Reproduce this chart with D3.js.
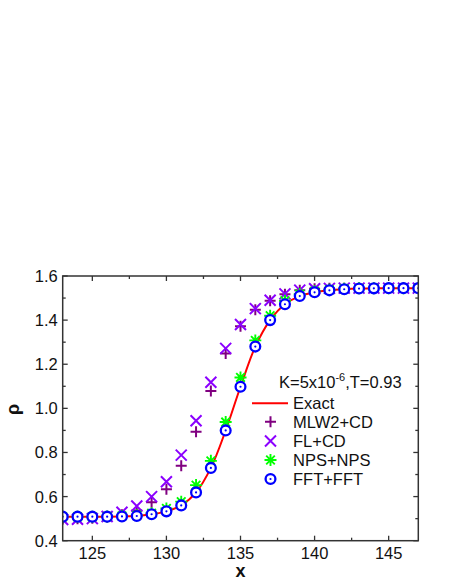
<!DOCTYPE html>
<html><head><meta charset="utf-8">
<script src="https://cdn.jsdelivr.net/npm/d3@7"></script>
<style>body{margin:0;background:#fff}svg{display:block}text{font-family:"Liberation Sans",Arial,sans-serif;fill:#111}</style>
</head><body><svg id="c" width="450" height="582"></svg>
<script>
const xs = [123,124,125,126,127,128,129,130,131,132,133,134,135,136,137,138,139,140,141,142,143,144,145,146,147];
const exact = [0.509,0.509,0.509,0.509,0.510,0.512,0.520,0.533,0.560,0.619,0.730,0.900,1.098,1.280,1.400,1.472,1.509,1.526,1.535,1.540,1.543,1.544,1.545,1.545,1.545];
const mlw2 = [0.498,0.499,0.502,0.507,0.518,0.537,0.574,0.633,0.740,0.894,1.079,1.249,1.372,1.447,1.488,1.517,1.535,1.542,1.544,1.545,1.545,1.545,1.545,1.545,1.545];
const flcd = [0.496,0.497,0.500,0.510,0.529,0.557,0.600,0.667,0.788,0.944,1.118,1.272,1.380,1.452,1.490,1.519,1.536,1.542,1.544,1.545,1.545,1.545,1.545,1.545,1.545];
const nps = [0.509,0.509,0.509,0.510,0.512,0.515,0.525,0.546,0.577,0.652,0.762,0.938,1.140,1.308,1.420,1.488,1.518,1.531,1.538,1.542,1.544,1.545,1.545,1.545,1.545];
const fft = [0.509,0.509,0.509,0.509,0.510,0.512,0.520,0.533,0.560,0.619,0.730,0.900,1.098,1.280,1.400,1.472,1.509,1.526,1.535,1.540,1.543,1.544,1.545,1.545,1.545];
const xTicks = [125,130,135,140,145];
const yTicks = [0.4,0.6,0.8,1.0,1.2,1.4,1.6];
const legendLabels = ["Exact","MLW2+CD","FL+CD","NPS+NPS","FFT+FFT"];

const svg = d3.select("#c");
const L=62.7,R=418.3,T=276,B=540.7;
const x = d3.scaleLinear().domain([123,147]).range([L,R]);
const y = d3.scaleLinear().domain([0.4,1.6]).range([B,T]);
const axisCol="#333";
const FS=16.5;

svg.append("defs").append("clipPath").attr("id","cp").append("rect").attr("x",L).attr("y",T).attr("width",R-L).attr("height",B-T);

const xMinor = d3.range(122.5,147.01,2.5).filter(v=>v>=123&&v<=147&&v%5!==0);
const yMinor = d3.range(0.5,1.6,0.2);
const g = svg.append("g");
function hTicks(vals,len){
  vals.forEach(v=>{
    g.append("line").attr("x1",x(v)).attr("x2",x(v)).attr("y1",B).attr("y2",B-len).attr("stroke",axisCol).attr("stroke-width",1.3);
    g.append("line").attr("x1",x(v)).attr("x2",x(v)).attr("y1",T).attr("y2",T+len).attr("stroke",axisCol).attr("stroke-width",1.3);
  });
}
function vTicks(vals,len){
  vals.forEach(v=>{
    g.append("line").attr("y1",y(v)).attr("y2",y(v)).attr("x1",L).attr("x2",L+len).attr("stroke",axisCol).attr("stroke-width",1.3);
    g.append("line").attr("y1",y(v)).attr("y2",y(v)).attr("x1",R).attr("x2",R-len).attr("stroke",axisCol).attr("stroke-width",1.3);
  });
}
hTicks(xTicks,5); hTicks(xMinor,3); vTicks(yTicks,5); vTicks(yMinor,3);

xTicks.forEach(v=>svg.append("text").attr("x",x(v)).attr("y",558.5).attr("text-anchor","middle").attr("font-size",FS).text(v));
yTicks.forEach(v=>svg.append("text").attr("x",L-5).attr("y",y(v)+6).attr("text-anchor","end").attr("font-size",FS).text(v.toFixed(1)));
svg.append("text").attr("x",x(135)).attr("y",577).attr("text-anchor","middle").attr("font-size",18).attr("font-weight","bold").text("x");
svg.append("text").attr("transform",`translate(19,${(T+B)/2+1}) rotate(-90)`).attr("text-anchor","middle").attr("font-size",18).attr("font-weight","bold").text("ρ");

const pg = svg.append("g").attr("clip-path","url(#cp)");
pg.append("path").datum(xs.map((v,i)=>[v,exact[i]])).attr("fill","none").attr("stroke","#ff0000").attr("stroke-width",2)
  .attr("d",d3.line().x(d=>x(d[0])).y(d=>y(d[1])).curve(d3.curveCatmullRom));

const sym = {
  plus:(s,cx,cy,c)=>{s.append("path").attr("d",`M${cx-5.5},${cy}H${cx+5.5}M${cx},${cy-5.5}V${cy+5.5}`).attr("stroke",c).attr("stroke-width",2).attr("fill","none");},
  cross:(s,cx,cy,c)=>{s.append("path").attr("d",`M${cx-5.5},${cy-5.5}L${cx+5.5},${cy+5.5}M${cx-5.5},${cy+5.5}L${cx+5.5},${cy-5.5}`).attr("stroke",c).attr("stroke-width",2).attr("fill","none");},
  star:(s,cx,cy,c)=>{s.append("path").attr("d",`M${cx-6},${cy}H${cx+6}M${cx},${cy-6}V${cy+6}M${cx-4.3},${cy-4.3}L${cx+4.3},${cy+4.3}M${cx-4.3},${cy+4.3}L${cx+4.3},${cy-4.3}`).attr("stroke",c).attr("stroke-width",1.9).attr("fill","none");},
  circ:(s,cx,cy,c)=>{s.append("circle").attr("cx",cx).attr("cy",cy).attr("r",4.9).attr("fill","#fff").attr("stroke",c).attr("stroke-width",2.3);
    s.append("circle").attr("cx",cx).attr("cy",cy).attr("r",1.1).attr("fill",c);}
};
const series=[[mlw2,"plus","#800080"],[flcd,"cross","#8b00ff"],[nps,"star","#00ff00"],[fft,"circ","#0000ff"]];
series.forEach(([vals,t,c])=>{
  xs.forEach((v,i)=>sym[t](pg,x(v),y(vals[i]),c));
});

svg.append("rect").attr("x",L).attr("y",T).attr("width",R-L).attr("height",B-T).attr("fill","none").attr("stroke",axisCol).attr("stroke-width",1.5);

const kt = svg.append("text").attr("x",279).attr("y",387.5).attr("font-size",FS);
kt.append("tspan").text("K=5x10");
kt.append("tspan").attr("dy",-6.5).attr("font-size",11).text("-6");
kt.append("tspan").attr("dy",6.5).text(",T=0.93");
svg.append("line").attr("x1",252).attr("x2",288).attr("y1",403.3).attr("y2",403.3).attr("stroke","#ff0000").attr("stroke-width",2);
const rows=[403.3,421.7,441,460,479];
svg.append("text").attr("x",293).attr("y",rows[0]+6).attr("font-size",FS).text(legendLabels[0]);
series.forEach(([vals,t,c],i)=>{
  sym[t](svg,270.5,rows[i+1],c);
  svg.append("text").attr("x",293).attr("y",rows[i+1]+6).attr("font-size",FS).text(legendLabels[i+1]);
});
</script></body></html>
